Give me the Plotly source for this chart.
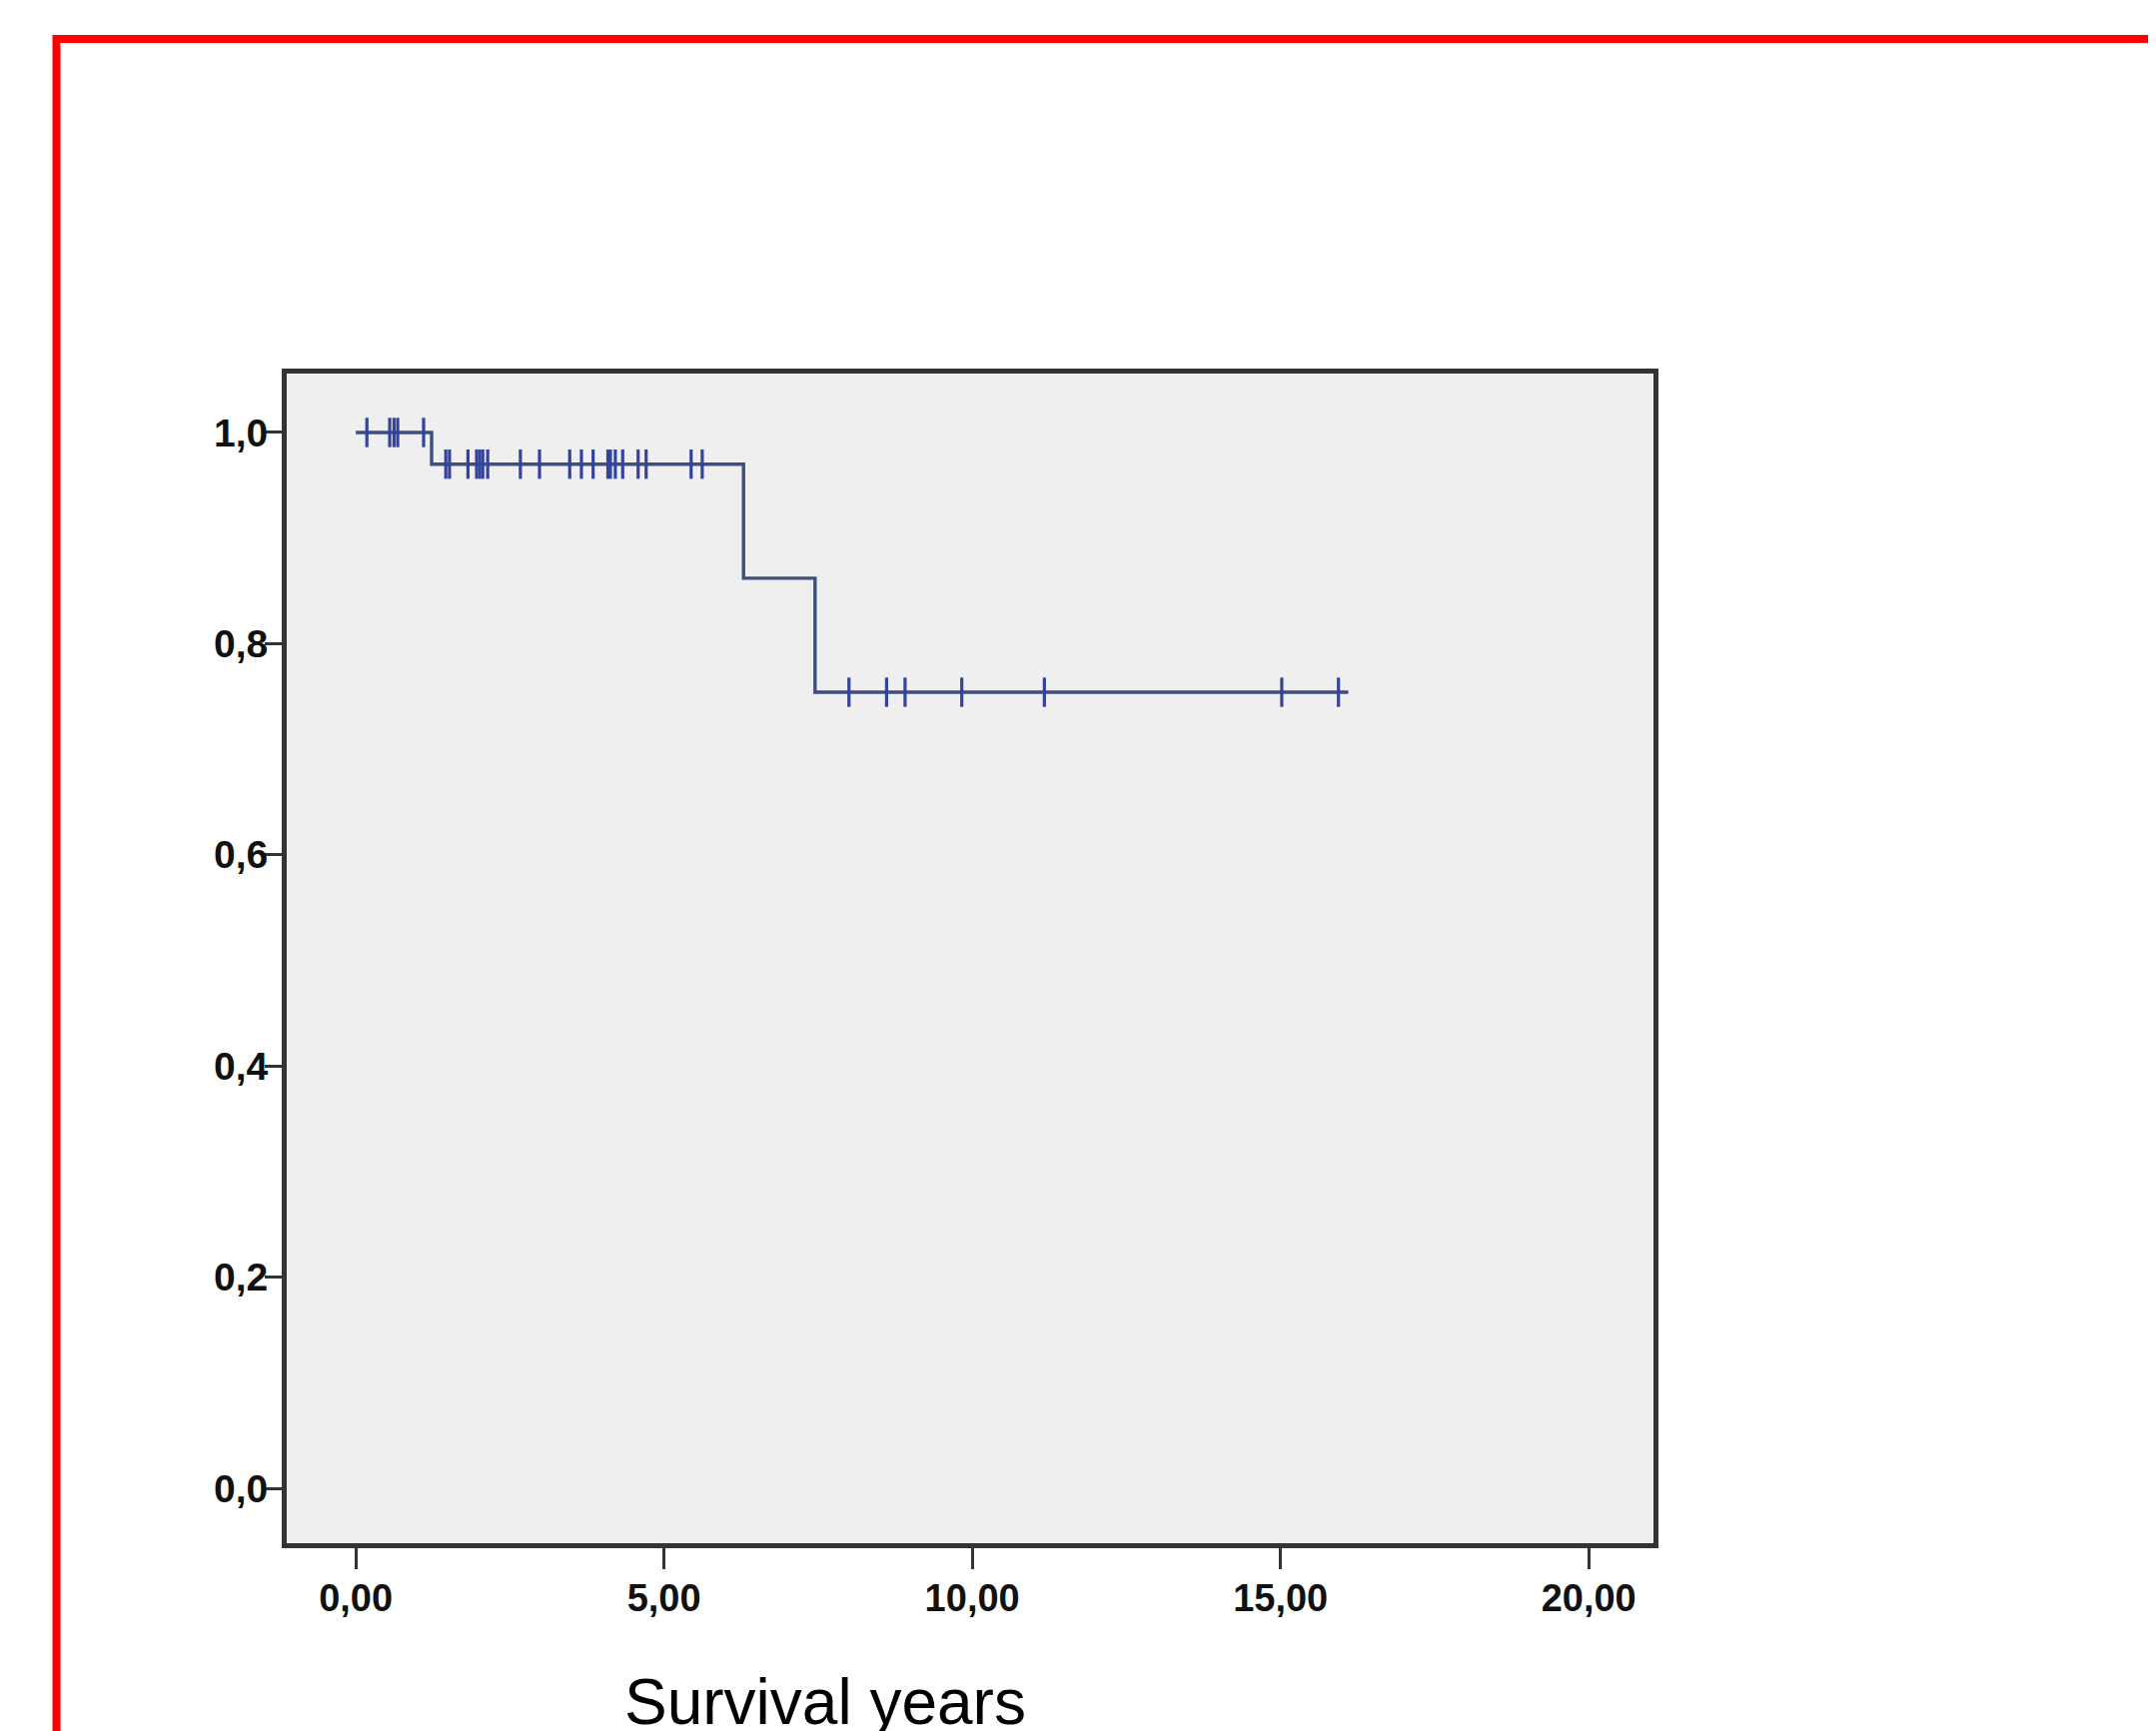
import plotly.graph_objects as go

# ---- data (Kaplan-Meier estimate) ----
event_times = [1.23, 6.29, 7.45]            # years at which survival drops
survival_levels = [1.0, 0.970, 0.862, 0.754]  # level before first event and after each event
max_followup = 16.10
censor_times = [0.18, 0.55, 0.62, 0.68, 1.10,
                1.46, 1.52, 1.82, 1.96, 2.01, 2.06, 2.14, 2.67, 2.98, 3.47,
                3.66, 3.85, 4.09, 4.13, 4.21, 4.33, 4.58, 4.71, 5.44, 5.62,
                8.00, 8.61, 8.91, 9.83, 11.17, 15.02, 15.94]
x_tickvals = [0, 5, 10, 15, 20]
x_ticktext = ["0,00", "5,00", "10,00", "15,00", "20,00"]
y_tickvals = [0.0, 0.2, 0.4, 0.6, 0.8, 1.0]
y_ticktext = ["0,0", "0,2", "0,4", "0,6", "0,8", "1,0"]
x_title = "Survival years"


def surv_at(t):
    s = survival_levels[0]
    for i, et in enumerate(event_times):
        if t >= et:
            s = survival_levels[i + 1]
    return s


step_x = [0.0] + event_times + [max_followup]
step_y = survival_levels + [survival_levels[-1]]
censor_y = [surv_at(t) for t in censor_times]

line_color = "#3f4d80"
mark_color = "#34449c"

fig = go.Figure()
fig.add_trace(go.Scatter(x=step_x, y=step_y, mode="lines", line_shape="hv",
                         line=dict(color=line_color, width=3.4), hoverinfo="skip",
                         showlegend=False))
fig.add_trace(go.Scatter(x=censor_times, y=censor_y, mode="markers",
                         marker=dict(symbol="line-ns", size=21,
                                     line=dict(color=mark_color, width=3.2)),
                         showlegend=False))

OFF = 8  # page body margin
W, H = 2158 - OFF, 1733 - OFF
L, R, T, B = 287 - OFF, 1655 - OFF, 374 - OFF, 1545 - OFF


def px_x(px):
    return (px - OFF - L) / (R - L)


def px_y(py):
    return (B - (py - OFF)) / (B - T)


fig.update_layout(
    width=W, height=H,
    margin=dict(l=L, r=W - R, t=T, b=H - B, pad=0),
    paper_bgcolor="white",
    plot_bgcolor="#efefef",
    showlegend=False,
    xaxis=dict(range=[-1.12, 21.05], tickvals=x_tickvals, ticktext=x_ticktext,
               ticks="outside", ticklen=21, tickwidth=2.5, tickcolor="#333333",
               ticklabelstandoff=-4,
               showgrid=False, zeroline=False, showline=True, mirror=True,
               linewidth=5, linecolor="#333333",
               tickfont=dict(family="Liberation Sans Narrow, Arial Narrow, Liberation Sans, Arial",
                             size=38, color="#111111", weight="bold")),
    yaxis=dict(range=[-0.052, 1.0558], tickvals=y_tickvals, ticktext=y_ticktext,
               ticks="outside", ticklen=17, tickwidth=2.5, tickcolor="#333333",
               ticklabelstandoff=-11,
               showgrid=False, zeroline=False, showline=True, mirror=True,
               linewidth=5, linecolor="#333333",
               tickfont=dict(family="Liberation Sans, Arial", size=39,
                             color="#111111", weight="bold")),
    shapes=[dict(type="rect", xref="paper", yref="paper",
                 x0=px_x(56.5), x1=px_x(2240), y0=px_y(1800), y1=px_y(39),
                 line=dict(color="#ff0000", width=8), fillcolor="rgba(0,0,0,0)",
                 layer="below")],
    annotations=[dict(text=x_title, xref="paper", yref="paper",
                      x=px_x(826), y=px_y(1704), xanchor="center", yanchor="middle",
                      showarrow=False,
                      font=dict(family="Liberation Sans, Arial", size=64, color="#000000"))],
)

fig.write_html("out.html")
